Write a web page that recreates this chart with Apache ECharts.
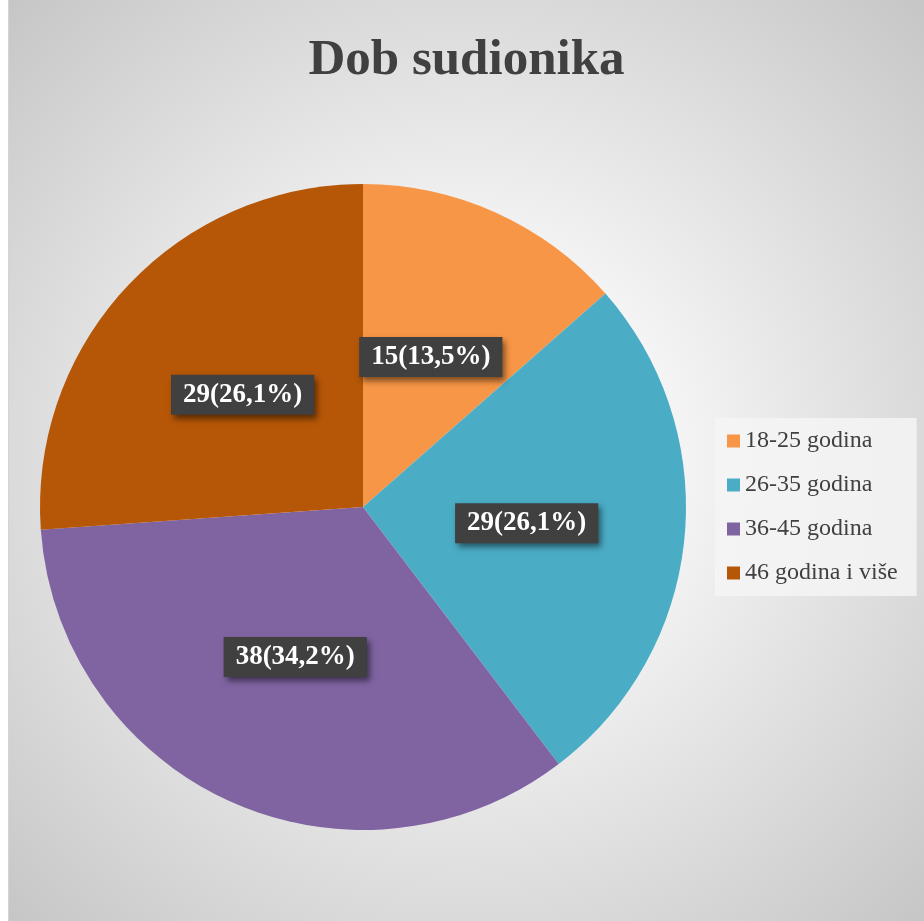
<!DOCTYPE html>
<html>
<head>
<meta charset="utf-8">
<script src="https://cdn.jsdelivr.net/npm/echarts@6/dist/echarts.min.js"></script>
<style>
html, body {
  margin: 0;
  padding: 0;
  background: #ffffff;
}
#chart {
  position: absolute;
  left: 8px;
  top: 0;
  width: 916px;
  height: 921px;
  border-left: 1px solid #d4d4d4;
  box-sizing: border-box;
  background: radial-gradient(circle farthest-corner at 50% 50%, #ffffff 0%, #f6f6f6 30%, #c6c6c6 100%);
}
</style>
</head>
<body>
<div id="chart"></div>
<script>
const titleText = "Dob sudionika";
const categories = ["18-25 godina", "26-35 godina", "36-45 godina", "46 godina i više"];
const values = [15, 29, 38, 29];
const colors = ["#F79646", "#4BACC6", "#8064A2", "#B65708"];

let pieData = [];
for (let i in categories) {
  pieData.push({
    name: categories[i],
    value: values[i],
    itemStyle: { color: colors[i] },
  });
}

let myChart = echarts.init(document.getElementById("chart"));
let option = {
  title: {
    text: titleText,
    left: "center",
    top: 30,
    textStyle: {
      fontFamily: "Liberation Serif",
      fontWeight: "bold",
      fontSize: 51,
      color: "#404040",
    },
  },
  legend: {
    orient: "vertical",
    left: 706,
    top: 418,
    padding: [11, 19, 11, 12],
    backgroundColor: "rgba(245,245,245,0.85)",
    icon: "rect",
    itemWidth: 13,
    itemHeight: 13,
    itemGap: 20,
    data: categories,
    textStyle: {
      fontFamily: "Liberation Serif",
      fontSize: 24,
      lineHeight: 24,
      color: "#404040",
    },
  },
  series: [
    {
      type: "pie",
      center: [354, 507],
      radius: 323,
      startAngle: 90,
      clockwise: true,
      avoidLabelOverlap: false,
      silent: true,
      label: {
        show: true,
        position: "inside",
        formatter: function (p) {
          return p.value + "(" + p.percent.toFixed(1).replace(".", ",") + "%)";
        },
        fontFamily: "Liberation Serif",
        fontWeight: "bold",
        fontSize: 27,
        color: "#ffffff",
        backgroundColor: "#404040",
        padding: [7, 12, 6, 12],
        shadowColor: "rgba(0,0,0,0.5)",
        shadowBlur: 6,
        shadowOffsetX: 3,
        shadowOffsetY: 4,
      },
      labelLine: { show: false },
      data: pieData,
    },
  ],
};
myChart.setOption(option);
</script>
</body>
</html>
